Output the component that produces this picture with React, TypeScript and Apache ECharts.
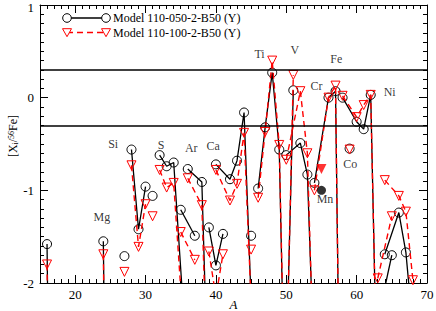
import { useEffect, useRef } from 'react';
import * as echarts from 'echarts';

const MODEL_050 = 'Model 110-050-2-B50 (Y)';
const MODEL_100 = 'Model 110-100-2-B50 (Y)';

// Elements and their isotopes (mass number A)
const elements = ['O', 'Mg', 'Al', 'Si', 'P', 'S', 'Cl', 'Ar', 'K', 'Ca', 'Sc', 'Ti', 'V', 'Cr', 'Fe', 'Co', 'Ni', 'Cu', 'Zn'];
const isotopeMass = [
  [16, 17, 18], [24, 25, 26], [27], [28, 29, 30], [31], [32, 33, 34, 36], [35, 37], [36, 38, 40],
  [39, 40, 41], [40, 42, 43, 44, 46, 48], [45], [46, 47, 48, 49, 50], [50, 51], [50, 52, 53, 54],
  [54, 56, 57, 58], [59], [58, 60, 61, 62, 64], [63, 65], [64, 66, 67, 68, 70],
];
// [X_i/56Fe] for Model 110-050-2-B50 (values below -2 fall off the plot)
const model050 = [
  [-1.58, -8, -7], [-1.55, -8, -8], [-1.71], [-0.56, -1.42, -0.96], [-1.06], [-0.62, -0.74, -0.70, -3.0],
  [-1.21, -1.49], [-0.77, -0.91, -6.0], [-1.40, -1.81, -1.47], [-0.72, -0.88, -0.68, -0.16, -4.2, -5.0],
  [-1.49], [-0.98, -0.32, 0.27, -0.56, -4.1], [-2.9, 0.08], [-0.62, -0.49, -0.83, -3.0],
  [-0.92, 0.0, 0.07, -5.9], [-0.55], [0.0, -0.26, -0.34, 0.03, -7.0], [-2.4, -1.70], [-1.69, -1.24, -1.67, -2.5, -4.0],
];
// [X_i/56Fe] for Model 110-100-2-B50
const model100 = [
  [-1.80, -8, -7], [-1.69, -8, -8], [-1.88], [-0.73, -1.61, -1.15], [-1.28], [-0.78, -0.97, -0.92, -3.2],
  [-1.45, -1.75], [-0.87, -1.16, -6.0], [-1.66, -2.15, -1.69], [-0.78, -1.11, -0.93, -0.38, -4.0, -5.0],
  [-1.64], [-1.08, -0.37, 0.40, -0.51, -4.0], [-3.0, 0.245], [-0.67, 0.07, -0.60, -3.2],
  [-1.0, 0.0, 0.13, -6.0], [-0.56], [0.02, -0.21, -0.08, 0.03, -7.0], [-1.95, -1.28], [-0.89, -1.06, -1.23, -1.97, -4.0],
];
// Mn (A = 55), drawn with filled symbols
const mnMass = 55;
const mn050 = -1.0;
const mn100 = -0.77;
// reference band lines
const bandLevels = [0.3, -0.3];
// element name annotations (data coordinates)
const labelNames = ['Mg', 'Si', 'S', 'Ar', 'Ca', 'Ti', 'V', 'Cr', 'Fe', 'Co', 'Ni', 'Mn'];
const labelA = [23.8, 25.4, 32.2, 36.5, 39.6, 46.2, 51.2, 54.3, 57.1, 59.1, 64.7, 55.5];
const labelVal = [-1.29, -0.5, -0.51, -0.54, -0.52, 0.47, 0.51, 0.13, 0.415, -0.72, 0.065, -1.09];
// axis ticks
const xMajorTicks = [20, 30, 40, 50, 60, 70];

const FONT = '"Liberation Serif", "Times New Roman", serif';
const RED = '#ff0000';

function buildOption() {
  const series: any[] = [];
  elements.forEach((el, i) => {
    series.push({
      name: MODEL_050,
      id: 'b-' + el,
      type: 'line',
      data: isotopeMass[i].map((a, j) => [a, model050[i][j]]),
      symbol: 'circle',
      symbolSize: 9,
      showSymbol: true,
      itemStyle: { color: 'rgba(255,255,255,0)', borderColor: '#000', borderWidth: 1 },
      lineStyle: { color: '#000', width: 1.3 },
      z: 3,
      markLine:
        i === 0
          ? {
              silent: true,
              symbol: 'none',
              label: { show: false },
              lineStyle: { color: '#000', width: 1.5, type: 'solid' },
              data: bandLevels.map((v) => ({ yAxis: v })),
            }
          : undefined,
    });
  });
  elements.forEach((el, i) => {
    series.push({
      name: MODEL_100,
      id: 'r-' + el,
      type: 'line',
      data: isotopeMass[i].map((a, j) => [a, model100[i][j]]),
      symbol: 'triangle',
      symbolRotate: 180,
      symbolSize: 9,
      showSymbol: true,
      itemStyle: { color: 'rgba(255,255,255,0)', borderColor: RED, borderWidth: 1 },
      lineStyle: { color: RED, width: 1.4, type: [6, 4] },
      z: 4,
    });
  });
  series.push({
    name: 'Mn 050',
    type: 'scatter',
    data: [[mnMass, mn050]],
    symbol: 'circle',
    symbolSize: 9,
    itemStyle: { color: '#000' },
    z: 5,
  });
  series.push({
    name: 'Mn 100',
    type: 'scatter',
    data: [[mnMass, mn100]],
    symbol: 'triangle',
    symbolRotate: 180,
    symbolSize: 10,
    itemStyle: { color: RED },
    z: 5,
  });
  series.push({
    name: 'labels',
    type: 'scatter',
    silent: true,
    symbolSize: 0,
    itemStyle: { color: '#000' },
    data: labelNames.map((n, i) => ({ name: n, value: [labelA[i], labelVal[i]] })),
    label: {
      show: true,
      position: 'inside',
      formatter: '{b}',
      color: '#000',
      textBorderWidth: 0,
      textBorderColor: 'transparent',
      fontFamily: FONT,
      fontSize: 12,
    },
    z: 6,
  });

  const xBase = { type: 'value', min: 15, max: 70, gridIndex: 0, splitLine: { show: false } };
  const axisColor = { lineStyle: { color: '#000', width: 1 } };
  const axisLineStyle = { onZero: false, lineStyle: { color: '#000', width: 1 } };

  const legendY1 = 18;
  const legendY2 = 32.5;
  const tri = (cx: number, cy: number) => [
    [cx - 4.5, cy - 3.8],
    [cx + 4.5, cy - 3.8],
    [cx, cy + 4.2],
  ];

  return {
    animation: false,
    backgroundColor: '#fff',
    grid: { left: 40, right: 9, top: 5, bottom: 28, containLabel: false, outerBoundsMode: 'none' },
    xAxis: [
      {
        ...xBase,
        position: 'bottom',
        interval: 1,
        axisLine: axisLineStyle,
        axisTick: { inside: true, length: 4, ...axisColor },
        axisLabel: {
          formatter: (v: number) => (v % 10 === 0 ? String(v) : ''),
          fontFamily: FONT,
          fontSize: 13,
          color: '#000',
          margin: 5,
        },
        name: 'A',
        nameLocation: 'middle',
        nameGap: 15,
        nameMoveOverlap: false,
        nameTextStyle: { fontStyle: 'italic', fontFamily: FONT, fontSize: 13, color: '#000' },
      },
      {
        ...xBase,
        position: 'bottom',
        axisLine: { show: false, onZero: false },
        axisTick: { inside: true, length: 8, customValues: xMajorTicks, ...axisColor },
        axisLabel: { show: false },
      },
      {
        ...xBase,
        position: 'top',
        interval: 1,
        axisLine: axisLineStyle,
        axisTick: { inside: true, length: 4, ...axisColor },
        axisLabel: { show: false },
      },
      {
        ...xBase,
        position: 'top',
        axisLine: { show: false, onZero: false },
        axisTick: { inside: true, length: 8, customValues: xMajorTicks, ...axisColor },
        axisLabel: { show: false },
      },
    ],
    yAxis: [
      {
        type: 'value',
        min: -2,
        max: 1,
        interval: 1,
        position: 'left',
        axisLine: axisLineStyle,
        axisTick: { inside: true, length: 8, ...axisColor },
        minorTick: { show: true, splitNumber: 10, length: 4, ...axisColor },
        splitLine: { show: false },
        minorSplitLine: { show: false },
        axisLabel: {
          fontFamily: FONT,
          fontSize: 13,
          color: '#000',
          margin: 6,
          formatter: (v: number) => (v === 1 ? '{top|1}' : String(v)),
          rich: { top: { fontFamily: FONT, fontSize: 13, color: '#000', padding: [5, 0, 0, 0] } },
        },
        name: '[X{sub|i}/{sup|56}Fe]',
        nameLocation: 'middle',
        nameGap: 21,
        nameMoveOverlap: false,
        nameTextStyle: {
          fontFamily: FONT,
          fontSize: 12,
          color: '#000',
          padding: [0, 0, 0, 16],
          rich: {
            sub: { fontFamily: FONT, fontSize: 8, verticalAlign: 'bottom', padding: [4, 0, 0, 0] },
            sup: { fontFamily: FONT, fontSize: 8, verticalAlign: 'top', padding: [0, 0, 4, 0] },
          },
        },
      },
      {
        type: 'value',
        min: -2,
        max: 1,
        interval: 1,
        position: 'right',
        axisLine: axisLineStyle,
        axisTick: { inside: true, length: 8, ...axisColor },
        minorTick: { show: true, splitNumber: 10, length: 4, ...axisColor },
        splitLine: { show: false },
        axisLabel: { show: false },
      },
    ],
    graphic: [
      { type: 'line', shape: { x1: 67, y1: legendY1, x2: 106, y2: legendY1 }, style: { stroke: '#000', lineWidth: 1.3 } },
      { type: 'circle', shape: { cx: 67, cy: legendY1, r: 4.3 }, style: { fill: '#fff', stroke: '#000', lineWidth: 1 } },
      { type: 'circle', shape: { cx: 106, cy: legendY1, r: 4.3 }, style: { fill: '#fff', stroke: '#000', lineWidth: 1 } },
      {
        type: 'text',
        x: 113,
        y: legendY1,
        style: { text: MODEL_050, fontFamily: FONT, fontSize: 12, fill: '#000', verticalAlign: 'middle', textVerticalAlign: 'middle' },
      },
      {
        type: 'line',
        shape: { x1: 67, y1: legendY2, x2: 106, y2: legendY2 },
        style: { stroke: RED, lineWidth: 1.4, lineDash: [6, 4] },
      },
      { type: 'polygon', shape: { points: tri(67, legendY2) }, style: { fill: '#fff', stroke: RED, lineWidth: 1 } },
      { type: 'polygon', shape: { points: tri(106, legendY2) }, style: { fill: '#fff', stroke: RED, lineWidth: 1 } },
      {
        type: 'text',
        x: 113,
        y: legendY2,
        style: { text: MODEL_100, fontFamily: FONT, fontSize: 12, fill: '#000', verticalAlign: 'middle', textVerticalAlign: 'middle' },
      },
    ],
    series,
  };
}

export default function App() {
  const ref = useRef<HTMLDivElement>(null);
  useEffect(() => {
    if (!ref.current) return;
    const chart = echarts.init(ref.current, null, { renderer: 'svg' });
    chart.setOption(buildOption() as any);
    return () => chart.dispose();
  }, []);
  return <div ref={ref} style={{ position: 'fixed', left: 0, top: 0, width: 436, height: 311 }} />;
}
